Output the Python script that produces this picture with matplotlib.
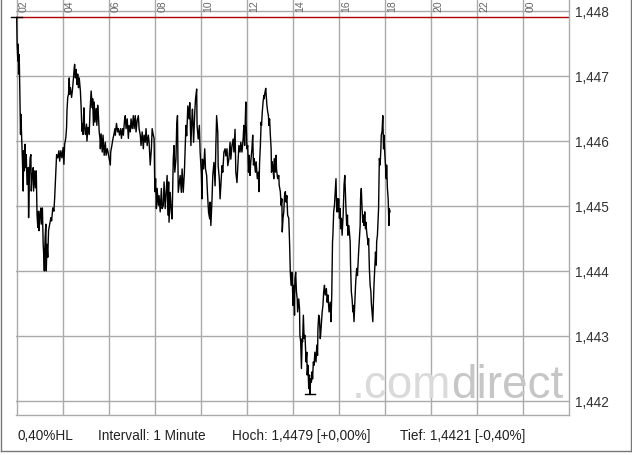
import numpy as np
import matplotlib
matplotlib.use("Agg")
from matplotlib import pyplot as plt
from matplotlib.lines import Line2D

# Minuten ab 02:00, Intervall ca. 1 Minute (ausgedünnt)
minuten = [
    0, 1, 3, 4, 5, 6, 7, 9, 10, 11, 13, 15, 17, 18, 20, 22, 23, 25, 27, 30,
    31, 33, 35, 37, 38, 40, 43, 44, 47, 49, 51, 53, 55, 57, 58, 60, 63, 64, 67, 69,
    70, 72, 74, 76, 77, 79, 81, 83, 86, 89, 91, 94, 97, 99, 102, 104, 107, 110, 112, 115,
    118, 121, 123, 125, 128, 130, 131, 133, 135, 137, 138, 140, 143, 145, 148, 150, 151, 153, 155, 157,
    159, 161, 163, 166, 168, 170, 171, 173, 175, 177, 179, 182, 183, 186, 189, 191, 194, 197,
    198, 200, 202, 204, 207, 209, 211, 213, 215, 217, 218, 220, 223, 225, 228, 231, 233, 236, 238, 241,
    244, 245, 248, 251, 253, 256, 257, 260, 263, 265, 268, 271, 273, 276, 278, 281, 283, 285, 288, 291,
    293, 296, 298, 301, 304, 306, 309, 311, 314, 317, 319, 322, 324, 327, 330, 332, 335, 337, 340, 343,
    345, 348, 351, 353, 356, 358, 360, 362, 364, 366, 369, 371, 374, 377, 379, 382, 384, 387, 390, 392,
    394, 396,
    397, 400, 403, 405, 408, 410, 412, 415, 417, 419, 421, 424, 426, 429, 431, 434, 437, 439, 441, 443,
    446, 449, 451, 454, 456, 458, 461, 464, 466, 469, 470, 473, 476, 478, 481, 483, 484, 487, 490, 492,
    495, 497, 500, 503, 504, 506, 509, 511, 514, 517, 519, 521, 524, 525, 528, 530, 532, 535, 537, 540,
    543, 545, 548, 550, 553, 556, 558, 561, 564, 566, 569, 571, 574, 577, 579, 582, 584, 587, 590, 592,
    594,
    597, 598, 600, 602, 604, 606, 608, 610, 613, 615, 617, 619, 622, 624, 627, 630, 631, 633, 635, 637,
    638, 640, 642, 644, 645, 647, 649, 651, 652, 654, 656, 657, 659, 661, 663, 664, 666, 668, 670, 671,
    674, 676, 677, 680, 683, 684, 687, 689, 691, 692, 694, 696, 698, 700, 702, 704, 706, 709, 711, 713,
    715, 717, 718, 720, 722, 724, 725, 727, 729, 731, 732, 735, 737, 738, 740, 742, 744, 745, 747, 749,
    751, 752, 754, 756, 757, 759, 761, 763, 764, 766, 768, 770, 771, 773, 775, 777, 778, 780, 782, 784,
    785, 787, 789, 791, 792,
    796, 798, 800, 802, 804, 807, 809, 811, 814, 817, 819, 821, 823, 824, 826, 828, 830, 832, 834, 836,
    837, 839, 841, 843, 844, 846, 848, 850, 851, 853, 855, 857, 858, 860, 862, 863, 865, 867, 869, 870,
    872, 874, 876, 877, 879, 881, 883, 884, 886, 888, 890, 891, 893, 895, 896, 898, 900, 902, 903, 905,
    907, 909, 910, 912, 914, 916, 917, 919, 921, 923, 924, 926, 928, 930, 931, 933, 935, 937, 938, 940,
    942, 943, 945, 947, 949, 950, 952, 954, 956, 957, 959, 961, 963, 964, 966, 968, 970, 971, 973,
]

kurs = [
    1.44790, 1.44749, 1.44723, 1.44749, 1.44703, 1.44733, 1.44718, 1.44646, 1.44610, 1.44641,
    1.44605, 1.44569, 1.44523, 1.44585, 1.44554, 1.44595, 1.44559, 1.44579, 1.44533, 1.44559,
    1.44482, 1.44544, 1.44574, 1.44579, 1.44523, 1.44544, 1.44559, 1.44523, 1.44554, 1.44528,
    1.44554, 1.44487, 1.44467, 1.44492, 1.44462, 1.44482, 1.44497, 1.44472, 1.44497, 1.44441,
    1.44431, 1.44400, 1.44451, 1.44472, 1.44400, 1.44441, 1.44421, 1.44462, 1.44472, 1.44482,
    1.44477, 1.44497, 1.44492, 1.44513, 1.44554, 1.44579, 1.44574, 1.44585, 1.44569, 1.44585,
    1.44574, 1.44590, 1.44564, 1.44595, 1.44605, 1.44621, 1.44646, 1.44667, 1.44672, 1.44697,
    1.44672, 1.44682, 1.44667, 1.44677, 1.44697, 1.44713, 1.44718, 1.44697, 1.44710, 1.44687,
    1.44703, 1.44682, 1.44697, 1.44677, 1.44651, 1.44615, 1.44626, 1.44610, 1.44651, 1.44621,
    1.44610, 1.44626, 1.44600, 1.44621, 1.44610, 1.44646, 1.44677, 1.44651,
    1.44665, 1.44624, 1.44660, 1.44629, 1.44650, 1.44624, 1.44655, 1.44639, 1.44614, 1.44604,
    1.44588, 1.44611, 1.44583, 1.44609, 1.44578, 1.44598, 1.44578, 1.44588, 1.44583, 1.44573,
    1.44563, 1.44583, 1.44593, 1.44604, 1.44609, 1.44619, 1.44609, 1.44627, 1.44614, 1.44619,
    1.44609, 1.44619, 1.44604, 1.44619, 1.44609, 1.44632, 1.44639, 1.44619, 1.44634, 1.44604,
    1.44624, 1.44614, 1.44634, 1.44619, 1.44639, 1.44619, 1.44639, 1.44614, 1.44632, 1.44639,
    1.44619, 1.44609, 1.44593, 1.44614, 1.44588, 1.44609, 1.44598, 1.44619, 1.44593, 1.44609,
    1.44598, 1.44563, 1.44588, 1.44619, 1.44609, 1.44604, 1.44522, 1.44542, 1.44496, 1.44527,
    1.44501, 1.44516, 1.44491, 1.44527, 1.44496, 1.44501, 1.44537, 1.44496, 1.44527, 1.44547,
    1.44486, 1.44537,
    1.44475, 1.44521, 1.44490, 1.44480, 1.44572, 1.44593, 1.44552, 1.44572, 1.44624, 1.44639,
    1.44521, 1.44536, 1.44547, 1.44521, 1.44557, 1.44521, 1.44552, 1.44588, 1.44624, 1.44608,
    1.44654, 1.44634, 1.44659, 1.44593, 1.44629, 1.44649, 1.44598, 1.44644, 1.44665, 1.44680,
    1.44624, 1.44603, 1.44624, 1.44583, 1.44552, 1.44511, 1.44572, 1.44557, 1.44588, 1.44557,
    1.44547, 1.44521, 1.44490, 1.44480, 1.44506, 1.44470, 1.44511, 1.44547, 1.44567, 1.44531,
    1.44593, 1.44639, 1.44613, 1.44562, 1.44542, 1.44511, 1.44531, 1.44562, 1.44552, 1.44583,
    1.44588, 1.44577, 1.44588, 1.44562, 1.44572, 1.44598, 1.44572, 1.44593, 1.44603, 1.44583,
    1.44618, 1.44552, 1.44536, 1.44572, 1.44593, 1.44583, 1.44598, 1.44583, 1.44603, 1.44624,
    1.44593,
    1.44660, 1.44624, 1.44588, 1.44593, 1.44552, 1.44578, 1.44547, 1.44568, 1.44588, 1.44609,
    1.44563, 1.44573, 1.44552, 1.44568, 1.44542, 1.44552, 1.44522, 1.44568, 1.44593, 1.44629,
    1.44624, 1.44645, 1.44660, 1.44670, 1.44665, 1.44675, 1.44681, 1.44665, 1.44655, 1.44645,
    1.44639, 1.44624, 1.44634, 1.44609, 1.44588, 1.44552, 1.44568, 1.44557, 1.44542, 1.44573,
    1.44552, 1.44578, 1.44557, 1.44542, 1.44547, 1.44532, 1.44522, 1.44501, 1.44511, 1.44460,
    1.44481, 1.44491, 1.44516, 1.44522, 1.44506, 1.44516, 1.44486, 1.44481, 1.44445, 1.44398,
    1.44378, 1.44398, 1.44388, 1.44347, 1.44378, 1.44332, 1.44388, 1.44398, 1.44368, 1.44357,
    1.44337, 1.44357, 1.44342, 1.44301, 1.44291, 1.44250, 1.44296, 1.44291, 1.44332, 1.44296,
    1.44301, 1.44291, 1.44260, 1.44275, 1.44240, 1.44255, 1.44219, 1.44240, 1.44210, 1.44234,
    1.44229, 1.44245, 1.44234, 1.44260, 1.44255, 1.44275, 1.44270, 1.44260, 1.44286, 1.44270,
    1.44311, 1.44332, 1.44327, 1.44296, 1.44301,
    1.44337, 1.44347, 1.44368, 1.44378, 1.44363, 1.44373, 1.44352, 1.44363, 1.44337, 1.44352,
    1.44322, 1.44363, 1.44445, 1.44455, 1.44491, 1.44501, 1.44522, 1.44542, 1.44491, 1.44511,
    1.44491, 1.44511, 1.44481, 1.44496, 1.44465, 1.44481, 1.44455, 1.44481, 1.44491, 1.44532,
    1.44547, 1.44511, 1.44496, 1.44470, 1.44486, 1.44455, 1.44470, 1.44460, 1.44445, 1.44409,
    1.44368, 1.44357, 1.44337, 1.44347, 1.44322, 1.44352, 1.44378, 1.44388, 1.44404, 1.44393,
    1.44419, 1.44429, 1.44450, 1.44470, 1.44511, 1.44527, 1.44496, 1.44475, 1.44486, 1.44470,
    1.44491, 1.44465, 1.44475, 1.44460, 1.44450, 1.44440, 1.44450, 1.44404, 1.44378, 1.44368,
    1.44352, 1.44337, 1.44322, 1.44357, 1.44378, 1.44404, 1.44429, 1.44409, 1.44445, 1.44455,
    1.44481, 1.44496, 1.44573, 1.44563, 1.44588, 1.44609, 1.44614, 1.44639, 1.44588, 1.44609,
    1.44583, 1.44563, 1.44542, 1.44563, 1.44527, 1.44511, 1.44470, 1.44496, 1.44491,
]

hoch = 1.4479
tief = 1.4421

stunden_ticks = [2, 4, 6, 8, 10, 12, 14, 16, 18, 20, 22, 24]
stunden_labels = ["02", "04", "06", "08", "10", "12", "14", "16", "18", "20", "22", "00"]
kurs_ticks = [1.442, 1.443, 1.444, 1.445, 1.446, 1.447, 1.448]
kurs_labels = ["1,442", "1,443", "1,444", "1,445", "1,446", "1,447", "1,448"]
fuss_texte = ["0,40%HL", "Intervall: 1 Minute", "Hoch: 1,4479 [+0,00%]", "Tief: 1,4421 [-0,40%]"]
fuss_x = [17, 98, 232, 400]

plt.rcParams['font.family'] = ['Liberation Sans', 'DejaVu Sans']

W, H = 632, 456
fig = plt.figure(figsize=(W / 100, H / 100), dpi=100)
ax = fig.add_axes([16 / W, (H - 415.5) / H, (569.3 - 16) / W, 415.5 / H])

zeit = 2 + np.array(minuten) / 60.0
kurs = np.array(kurs)

grau = '#aaaaaa'
ax.set_xlim(1.97, 26)
ax.set_ylim(1.441792, 1.4481846)
ax.set_xticks(stunden_ticks)
ax.set_yticks(kurs_ticks)
ax.set_yticklabels(kurs_labels)
ax.grid(True, color=grau, lw=1)
ax.set_axisbelow(True)
ax.tick_params(axis='x', length=0, labelbottom=False)
ax.tick_params(axis='y', length=0, left=False, labelleft=False, labelright=True,
               pad=4, labelsize=9.8, labelcolor='#333333')
for s in ['left', 'top']:
    ax.spines[s].set_visible(False)
for s in ['right', 'bottom']:
    ax.spines[s].set_color(grau)
    ax.spines[s].set_linewidth(1)

# Stunden oben, gedreht
for t, lab in zip(stunden_ticks, stunden_labels):
    ax.text(t + 0.1, 1 - 11.5 / 415.5, lab, transform=ax.get_xaxis_transform(),
            rotation=90, ha='left', va='bottom', fontsize=7.5, color='#666666')

# Wasserzeichen
t1 = ax.text((352 - 16) / 553.3, (415.5 - 398) / 415.5, '.com', transform=ax.transAxes,
             fontsize=33, color='#dadada', ha='left', va='baseline', zorder=1.5)
ax.annotate('direct', xy=(1, 0), xycoords=t1, ha='left', va='bottom',
            fontsize=33, color='#c6c6c6', zorder=1.5)

# Hoch-Linie und Markierungen
ax.axhline(hoch, color='#b00000', lw=1, zorder=2)
ax.plot(zeit, kurs, color='black', lw=1.0, zorder=3)
i_hoch = int(np.argmax(kurs))
i_tief = int(np.argmin(kurs))
ax.plot([zeit[i_hoch] - 0.24, zeit[i_hoch] + 0.24], [hoch, hoch], color='black', lw=1,
        clip_on=False, zorder=4)
ax.plot([zeit[i_tief] - 0.22, zeit[i_tief] + 0.22], [tief, tief], color='black', lw=1,
        clip_on=False, zorder=4)

# Fusszeile
for x, txt in zip(fuss_x, fuss_texte):
    fig.text(x / W, (H - 440.5) / H, txt, fontsize=9.8, color='#222222',
             ha='left', va='baseline')

# Rahmen
rahmen = '#777777'
fig.add_artist(Line2D([0.5 / W, 0.5 / W], [(H - 451.5) / H, 1], transform=fig.transFigure,
                      color=rahmen, lw=1))
fig.add_artist(Line2D([630.5 / W, 630.5 / W], [(H - 451.5) / H, 1], transform=fig.transFigure,
                      color=rahmen, lw=1))
fig.add_artist(Line2D([0.5 / W, 630.5 / W], [(H - 451.5) / H, (H - 451.5) / H],
                      transform=fig.transFigure, color=rahmen, lw=1))

fig.savefig('out.png', dpi=100)
